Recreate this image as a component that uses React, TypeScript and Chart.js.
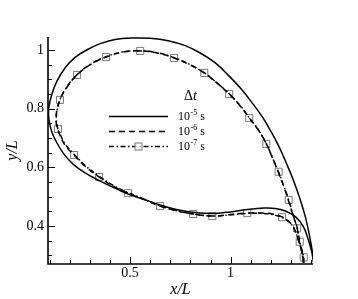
import { useEffect, useRef } from "react";
import { Chart, registerables } from "chart.js";

Chart.register(...registerables);

// 10^-5 s (solid): upper/right branch from tip, then lower branch back to tip
const solidUpper: [number, number][] = [
  [1.412, 0.277], [1.407, 0.311], [1.392, 0.369], [1.372, 0.431], [1.347, 0.489],
  [1.312, 0.557], [1.277, 0.615], [1.242, 0.669], [1.203, 0.72], [1.158, 0.772],
  [1.108, 0.819], [1.053, 0.867], [0.993, 0.911], [0.924, 0.956], [0.849, 0.99],
  [0.774, 1.015], [0.689, 1.032], [0.6, 1.04], [0.51, 1.041], [0.425, 1.036],
  [0.351, 1.022], [0.286, 1.001], [0.226, 0.975], [0.176, 0.939], [0.136, 0.894],
  [0.111, 0.85], [0.096, 0.806], [0.094, 0.778],
];
const solidLower: [number, number][] = [
  [0.099, 0.751], [0.111, 0.72], [0.136, 0.683], [0.171, 0.645], [0.216, 0.611],
  [0.276, 0.581], [0.351, 0.553], [0.425, 0.529], [0.5, 0.506], [0.575, 0.489],
  [0.649, 0.472], [0.749, 0.454], [0.849, 0.444], [0.924, 0.443], [0.998, 0.448],
  [1.083, 0.456], [1.163, 0.461], [1.222, 0.46], [1.272, 0.451], [1.322, 0.432],
  [1.362, 0.398], [1.387, 0.352], [1.404, 0.311], [1.412, 0.277],
];

// 10^-6 s (dashed)
const dashedUpper: [number, number][] = [
  [1.362, 0.274], [1.362, 0.295], [1.342, 0.346], [1.331, 0.393], [1.307, 0.444],
  [1.287, 0.489], [1.262, 0.54], [1.237, 0.584], [1.208, 0.632], [1.178, 0.68],
  [1.138, 0.727], [1.093, 0.768], [1.048, 0.809], [0.993, 0.85], [0.933, 0.887],
  [0.869, 0.922], [0.799, 0.949], [0.719, 0.973], [0.635, 0.99], [0.55, 0.997],
  [0.465, 0.993], [0.38, 0.976], [0.306, 0.952], [0.236, 0.915], [0.186, 0.874],
  [0.151, 0.83], [0.136, 0.795], [0.131, 0.768],
];
const dashedLower: [number, number][] = [
  [0.136, 0.737], [0.151, 0.71], [0.176, 0.676], [0.221, 0.642], [0.276, 0.604],
  [0.346, 0.567], [0.415, 0.536], [0.49, 0.512], [0.575, 0.489], [0.649, 0.468],
  [0.734, 0.451], [0.814, 0.441], [0.909, 0.434], [0.998, 0.439], [1.083, 0.444],
  [1.158, 0.444], [1.208, 0.441], [1.256, 0.431], [1.287, 0.417], [1.312, 0.397],
  [1.337, 0.352], [1.355, 0.308], [1.362, 0.274],
];

// 10^-7 s (dash-dot)
const dashDotUpper: [number, number][] = [
  [1.364, 0.274], [1.363, 0.295], [1.344, 0.346], [1.332, 0.393], [1.308, 0.444],
  [1.289, 0.489], [1.263, 0.54], [1.238, 0.585], [1.209, 0.632], [1.178, 0.68],
  [1.139, 0.727], [1.094, 0.768], [1.048, 0.81], [0.994, 0.85], [0.934, 0.887],
  [0.869, 0.922], [0.799, 0.95], [0.719, 0.974], [0.635, 0.991], [0.55, 0.997],
  [0.465, 0.994], [0.38, 0.977], [0.306, 0.953], [0.236, 0.916], [0.186, 0.875],
  [0.151, 0.831], [0.137, 0.795], [0.133, 0.768],
];
const dashDotLower: [number, number][] = [
  [0.138, 0.737], [0.153, 0.711], [0.178, 0.678], [0.222, 0.644], [0.277, 0.606],
  [0.347, 0.569], [0.416, 0.538], [0.49, 0.514], [0.575, 0.49], [0.649, 0.469],
  [0.734, 0.452], [0.814, 0.441], [0.909, 0.434], [0.998, 0.438], [1.083, 0.443],
  [1.158, 0.443], [1.208, 0.439], [1.256, 0.429], [1.287, 0.416], [1.312, 0.396],
  [1.338, 0.352], [1.356, 0.308], [1.364, 0.274],
];
const dashDotMarkers: [number, number][] = [
  [1.364, 0.293], [1.344, 0.346], [1.331, 0.392], [1.289, 0.489], [1.239, 0.585],
  [1.178, 0.68], [1.093, 0.768], [0.993, 0.85], [0.869, 0.922], [0.719, 0.973],
  [0.55, 0.997], [0.38, 0.976], [0.236, 0.915], [0.151, 0.83], [0.141, 0.731],
  [0.221, 0.642], [0.346, 0.567], [0.49, 0.512], [0.649, 0.468], [0.814, 0.441],
  [0.909, 0.434], [1.083, 0.444], [1.256, 0.43],
];

const xRange = [0.0914, 1.41];
const yRange = [0.2704, 1.0445];
const xMajorTicks = [0.5, 1];
const xTickLabels = ["0.5", "1"];
const yMajorTicks = [0.4, 0.6, 0.8, 1];
const yTickLabels = ["0.4", "0.6", "0.8", "1"];
const xMinorStep = 0.1;
const yMinorStep = 0.05;
const xTitle = "x/L";
const yTitle = "y/L";
const legendTitleSymbol = "Δ";
const legendTitleVar = "t";
const legendBase = "10";
const legendExponents = ["-5", "-6", "-7"];
const legendUnit = " s";

const SERIF = "'Liberation Serif', 'DejaVu Serif', serif";
const DASH = [6, 4];
const DASHDOT = [5, 2.5, 1.5, 2.5];

const toPts = (a: [number, number][]) => a.map(([x, y]) => ({ x, y }));

export default function App() {
  const ref = useRef<HTMLCanvasElement>(null);

  useEffect(() => {
    if (!ref.current) return;

    const decor = {
      id: "decor",
      afterDraw(chart: any) {
        const { ctx, chartArea: ca, scales } = chart;
        const xs = scales.x;
        const ys = scales.y;
        ctx.save();
        ctx.strokeStyle = "#000";
        ctx.lineWidth = 1;
        ctx.setLineDash([]);
        // x ticks (inward)
        for (let i = Math.ceil(xRange[0] / xMinorStep); i * xMinorStep <= xRange[1] + 1e-9; i++) {
          const v = i * xMinorStep;
          const major = xMajorTicks.some((m) => Math.abs(m - v) < 1e-6);
          const px = Math.round(xs.getPixelForValue(v)) + 0.5;
          ctx.beginPath();
          ctx.moveTo(px, ca.bottom);
          ctx.lineTo(px, ca.bottom - (major ? 7 : 4));
          ctx.stroke();
        }
        for (let i = Math.ceil(yRange[0] / yMinorStep); i * yMinorStep <= yRange[1] + 1e-9; i++) {
          const v = i * yMinorStep;
          const major = yMajorTicks.some((m) => Math.abs(m - v) < 1e-6);
          const py = Math.round(ys.getPixelForValue(v)) + 0.5;
          ctx.beginPath();
          ctx.moveTo(ca.left, py);
          ctx.lineTo(ca.left + (major ? 7 : 4), py);
          ctx.stroke();
        }
        // axes
        ctx.lineWidth = 1.6;
        ctx.beginPath();
        ctx.moveTo(ca.left, ca.top);
        ctx.lineTo(ca.left, ca.bottom);
        ctx.lineTo(ca.right, ca.bottom);
        ctx.stroke();

        // legend
        const lx0 = ca.left + 61;
        const lx1 = ca.left + 120;
        const tx = ca.left + 130;
        const rows = [ca.top + 79, ca.top + 94, ca.top + 109];
        ctx.fillStyle = "#000";
        ctx.textBaseline = "alphabetic";
        ctx.textAlign = "left";
        ctx.font = `14px ${SERIF}`;
        const titleX = ca.left + 136;
        const titleY = ca.top + 63;
        ctx.fillText(legendTitleSymbol, titleX, titleY);
        const dw = ctx.measureText(legendTitleSymbol).width;
        ctx.font = `italic 14px ${SERIF}`;
        ctx.fillText(legendTitleVar, titleX + dw, titleY);

        const styles = [[], DASH, DASHDOT];
        rows.forEach((ry, i) => {
          ctx.strokeStyle = "#000";
          ctx.lineWidth = 1.5;
          ctx.setLineDash(styles[i]);
          ctx.beginPath();
          ctx.moveTo(lx0, ry + 0.5);
          ctx.lineTo(lx1, ry + 0.5);
          ctx.stroke();
          ctx.setLineDash([]);
          if (i === 2) {
            const cx = (lx0 + lx1) / 2;
            ctx.fillStyle = "rgba(255,255,255,0.7)";
            ctx.strokeStyle = "#7a7a7a";
            ctx.lineWidth = 1;
            ctx.fillRect(cx - 3.5, ry - 3, 7, 7);
            ctx.strokeRect(cx - 3.5, ry - 3, 7, 7);
          }
          ctx.fillStyle = "#000";
          ctx.font = `12px ${SERIF}`;
          ctx.fillText(legendBase, tx, ry + 4);
          let w = ctx.measureText(legendBase).width;
          ctx.font = `8px ${SERIF}`;
          ctx.fillText(legendExponents[i], tx + w + 0.5, ry - 1);
          w += ctx.measureText(legendExponents[i]).width + 0.5;
          ctx.font = `12px ${SERIF}`;
          ctx.fillText(legendUnit, tx + w, ry + 4);
        });
        ctx.restore();
      },
    };

    const chart = new Chart(ref.current, {
      type: "scatter",
      data: {
        datasets: [
          {
            label: "1e-5",
            data: toPts([...solidUpper, ...solidLower]),
            showLine: true,
            borderColor: "#000",
            borderWidth: 1.5,
            pointRadius: 0,
            tension: 0.4,
          },
          {
            label: "1e-6",
            data: toPts([...dashedUpper, ...dashedLower]),
            showLine: true,
            borderColor: "#000",
            borderWidth: 1.5,
            borderDash: DASH,
            pointRadius: 0,
            tension: 0.4,
          },
          {
            label: "1e-7",
            data: toPts([...dashDotUpper, ...dashDotLower]),
            showLine: true,
            borderColor: "#000",
            borderWidth: 1.5,
            borderDash: DASHDOT,
            pointRadius: 0,
            tension: 0.4,
          },
          {
            label: "1e-7 markers",
            data: toPts(dashDotMarkers),
            showLine: false,
            pointStyle: "rect",
            pointRadius: 5,
            pointBorderWidth: 1,
            pointBorderColor: "#7a7a7a",
            pointBackgroundColor: "rgba(255,255,255,0.7)",
          },
        ],
      },
      options: {
        animation: false,
        responsive: false,
        devicePixelRatio: 1,
        layout: { padding: { left: 0, top: 37, right: 45, bottom: 0 } },
        plugins: { legend: { display: false }, tooltip: { enabled: false } },
        scales: {
          x: {
            type: "linear",
            min: xRange[0],
            max: xRange[1],
            grid: { display: false, drawTicks: false },
            border: { display: false },
            afterBuildTicks: (s: any) => {
              s.ticks = xMajorTicks.map((v) => ({ value: v }));
            },
            afterFit: (s: any) => {
              s.height = 35;
            },
            ticks: {
              color: "#000",
              font: { family: SERIF, size: 14 },
              padding: 1,
              maxRotation: 0,
              callback: (v: any) => xTickLabels[xMajorTicks.indexOf(Number(v))] ?? "",
            },
            title: {
              display: true,
              text: xTitle,
              color: "#000",
              font: { family: SERIF, size: 16, style: "italic" },
              padding: { top: 0, bottom: 0 },
            },
          },
          y: {
            type: "linear",
            min: yRange[0],
            max: yRange[1],
            grid: { display: false, drawTicks: false },
            border: { display: false },
            afterBuildTicks: (s: any) => {
              s.ticks = yMajorTicks.map((v) => ({ value: v }));
            },
            afterFit: (s: any) => {
              s.width = 48;
            },
            ticks: {
              color: "#000",
              font: { family: SERIF, size: 14 },
              padding: 4,
              callback: (v: any) => yTickLabels[yMajorTicks.indexOf(Number(v))] ?? "",
            },
            title: {
              display: true,
              text: yTitle,
              color: "#000",
              font: { family: SERIF, size: 16, style: "italic" },
              padding: { top: 3, bottom: 0 },
            },
          },
        },
      },
      plugins: [decor],
    });
    return () => chart.destroy();
  }, []);

  return (
    <div style={{ position: "absolute", left: 0, top: 0, width: 358, height: 299, background: "#fff" }}>
      <canvas ref={ref} width={358} height={299} style={{ display: "block" }} />
    </div>
  );
}
